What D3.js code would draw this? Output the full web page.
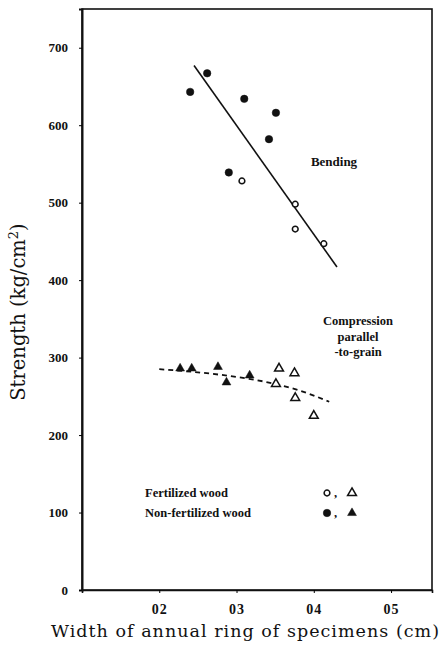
<!DOCTYPE html>
<html>
<head>
<meta charset="utf-8">
<script src="https://cdn.jsdelivr.net/npm/d3@7"></script>
<style>
  body { margin: 0; background: #fff; }
</style>
</head>
<body>
<script>
// Data (ring width in cm, strength in kg/cm2)
const bendNonFertX = [0.240, 0.262, 0.310, 0.351, 0.342, 0.290];
const bendNonFertY = [643, 667, 634, 616, 582, 539];
const bendFertX = [0.307, 0.376, 0.376, 0.413];
const bendFertY = [528, 498, 466, 447];
const compNonFertX = [0.227, 0.242, 0.276, 0.287, 0.317];
const compNonFertY = [286, 286, 288, 268, 277];
const compFertX = [0.355, 0.375, 0.351, 0.376, 0.400];
const compFertY = [286, 280, 266, 248, 225];
// fitted lines
const bendLineX = [0.245, 0.430];
const bendLineY = [677, 417];
const compCurveX = [0.20, 0.25, 0.30, 0.35, 0.38, 0.42];
const compCurveY = [285, 281, 275, 266, 258, 243];
// ticks
const xTicks = [0.2, 0.3, 0.4, 0.5];
const xTickLabels = ["02", "03", "04", "05"];
const yTicks = [0, 100, 200, 300, 400, 500, 600, 700];

const margin = { top: 9, right: 9, bottom: 60, left: 82 };
const width = 441;
const height = 650;
const innerW = width - margin.left - margin.right;
const innerH = height - margin.top - margin.bottom;
const serif = "'Liberation Serif', 'DejaVu Serif', serif";

const svg = d3.select("body")
  .append("svg")
  .attr("width", width)
  .attr("height", height)
  .append("g")
  .attr("transform", "translate(" + margin.left + "," + margin.top + ")");

const x = d3.scaleLinear().domain([0.1, 0.553]).range([0, innerW]);
const y = d3.scaleLinear().domain([0, 750]).range([innerH, 0]);

// frame
svg.append("rect")
  .attr("width", innerW)
  .attr("height", innerH)
  .attr("fill", "none")
  .attr("stroke", "#111")
  .attr("stroke-width", 1.6);

// y axis
const yAxis = svg.append("g")
  .call(d3.axisLeft(y).tickValues(yTicks).tickSize(3).tickPadding(11));
yAxis.select(".domain").attr("stroke", "#111").attr("stroke-width", 2);
yAxis.selectAll("text")
  .style("font-family", serif)
  .style("font-size", "13px")
  .style("font-weight", "bold")
  .attr("fill", "#111");

// x axis
const xAxis = svg.append("g")
  .attr("transform", `translate(0,${innerH})`)
  .call(d3.axisBottom(x).tickValues(xTicks)
    .tickFormat((d, i) => xTickLabels[i]).tickSize(3).tickPadding(11));
xAxis.select(".domain").attr("stroke", "#111").attr("stroke-width", 1.6);
xAxis.selectAll("text")
  .style("font-family", serif)
  .style("font-size", "14px")
  .style("font-weight", "bold")
  .style("letter-spacing", "1px")
  .attr("fill", "#111");

// axis titles
svg.append("text")
  .attr("x", 245 - margin.left)
  .attr("y", 637 - margin.top)
  .attr("text-anchor", "middle")
  .attr("textLength", 388)
  .attr("lengthAdjust", "spacing")
  .style("font-family", "'DejaVu Serif', serif")
  .style("font-size", "17.5px")
  .attr("fill", "#111")
  .text("Width of annual ring of specimens (cm)");

const yTitle = svg.append("text")
  .attr("transform", `translate(${25 - margin.left},${312 - margin.top}) rotate(-90)`)
  .attr("text-anchor", "middle")
  .style("font-family", "'DejaVu Serif', serif")
  .style("font-size", "19.5px")
  .attr("fill", "#111");
yTitle.append("tspan").text("Strength (kg/cm");
yTitle.append("tspan").attr("dy", -7).style("font-size", "13px").text("2");
yTitle.append("tspan").attr("dy", 7).text(")");

// bending regression line
const line = d3.line().x(d => x(d[0])).y(d => y(d[1]));
svg.append("path")
  .datum(d3.zip(bendLineX, bendLineY))
  .attr("d", line)
  .attr("fill", "none")
  .attr("stroke", "#111")
  .attr("stroke-width", 1.6);

// compression dashed curve
svg.append("path")
  .datum(d3.zip(compCurveX, compCurveY))
  .attr("d", line.curve(d3.curveMonotoneX))
  .attr("fill", "none")
  .attr("stroke", "#111")
  .attr("stroke-width", 1.8)
  .attr("stroke-dasharray", "5,4");

// markers
const circleFilled = d3.symbol().type(d3.symbolCircle).size(44);
const circleOpen = d3.symbol().type(d3.symbolCircle).size(26);
const triangle = d3.symbol().type(d3.symbolTriangle).size(34);

function drawPoints(xs, ys, sym, filled) {
  svg.append("g")
    .selectAll("path")
    .data(d3.zip(xs, ys))
    .join("path")
    .attr("transform", d => `translate(${x(d[0])},${y(d[1])})`)
    .attr("d", sym)
    .attr("fill", filled ? "#111" : "#fff")
    .attr("stroke", "#111")
    .attr("stroke-width", filled ? 0.5 : 1.5);
}
drawPoints(bendNonFertX, bendNonFertY, circleFilled, true);
drawPoints(bendFertX, bendFertY, circleOpen, false);
drawPoints(compNonFertX, compNonFertY, triangle, true);
drawPoints(compFertX, compFertY, triangle, false);

// annotations
svg.append("text")
  .attr("x", 334 - margin.left)
  .attr("y", 166 - margin.top)
  .attr("text-anchor", "middle")
  .style("font-family", serif)
  .style("font-size", "13px")
  .style("font-weight", "bold")
  .attr("fill", "#111")
  .text("Bending");

const compLabel = ["Compression", "parallel", "-to-grain"];
svg.append("g")
  .selectAll("text")
  .data(compLabel)
  .join("text")
  .attr("x", 358 - margin.left)
  .attr("y", (d, i) => 325 - margin.top + i * 15.5)
  .attr("text-anchor", "middle")
  .style("font-family", serif)
  .style("font-size", "12.5px")
  .style("font-weight", "bold")
  .attr("fill", "#111")
  .text(d => d);

// legend
const legendLabels = ["Fertilized wood", "Non-fertilized wood"];
const legend = svg.append("g")
  .attr("transform", `translate(${145 - margin.left},${497 - margin.top})`);
const legendItems = legend.selectAll("g")
  .data(legendLabels)
  .join("g")
  .attr("transform", (d, i) => `translate(0,${i * 20})`);
legendItems.append("text")
  .style("font-family", serif)
  .style("font-size", "12.5px")
  .style("font-weight", "bold")
  .attr("fill", "#111")
  .text(d => d);
legendItems.append("path")
  .attr("transform", "translate(182,-4)")
  .attr("d", (d, i) => i === 0 ? circleOpen() : circleFilled())
  .attr("fill", (d, i) => i === 0 ? "#fff" : "#111")
  .attr("stroke", "#111")
  .attr("stroke-width", (d, i) => i === 0 ? 1.5 : 0.5);
legendItems.append("text")
  .attr("x", 189)
  .style("font-family", serif)
  .style("font-size", "12.5px")
  .style("font-weight", "bold")
  .attr("fill", "#111")
  .text(",");
legendItems.append("path")
  .attr("transform", "translate(207,-4)")
  .attr("d", triangle())
  .attr("fill", (d, i) => i === 0 ? "#fff" : "#111")
  .attr("stroke", "#111")
  .attr("stroke-width", (d, i) => i === 0 ? 1.5 : 0.5);
</script>
</body>
</html>
